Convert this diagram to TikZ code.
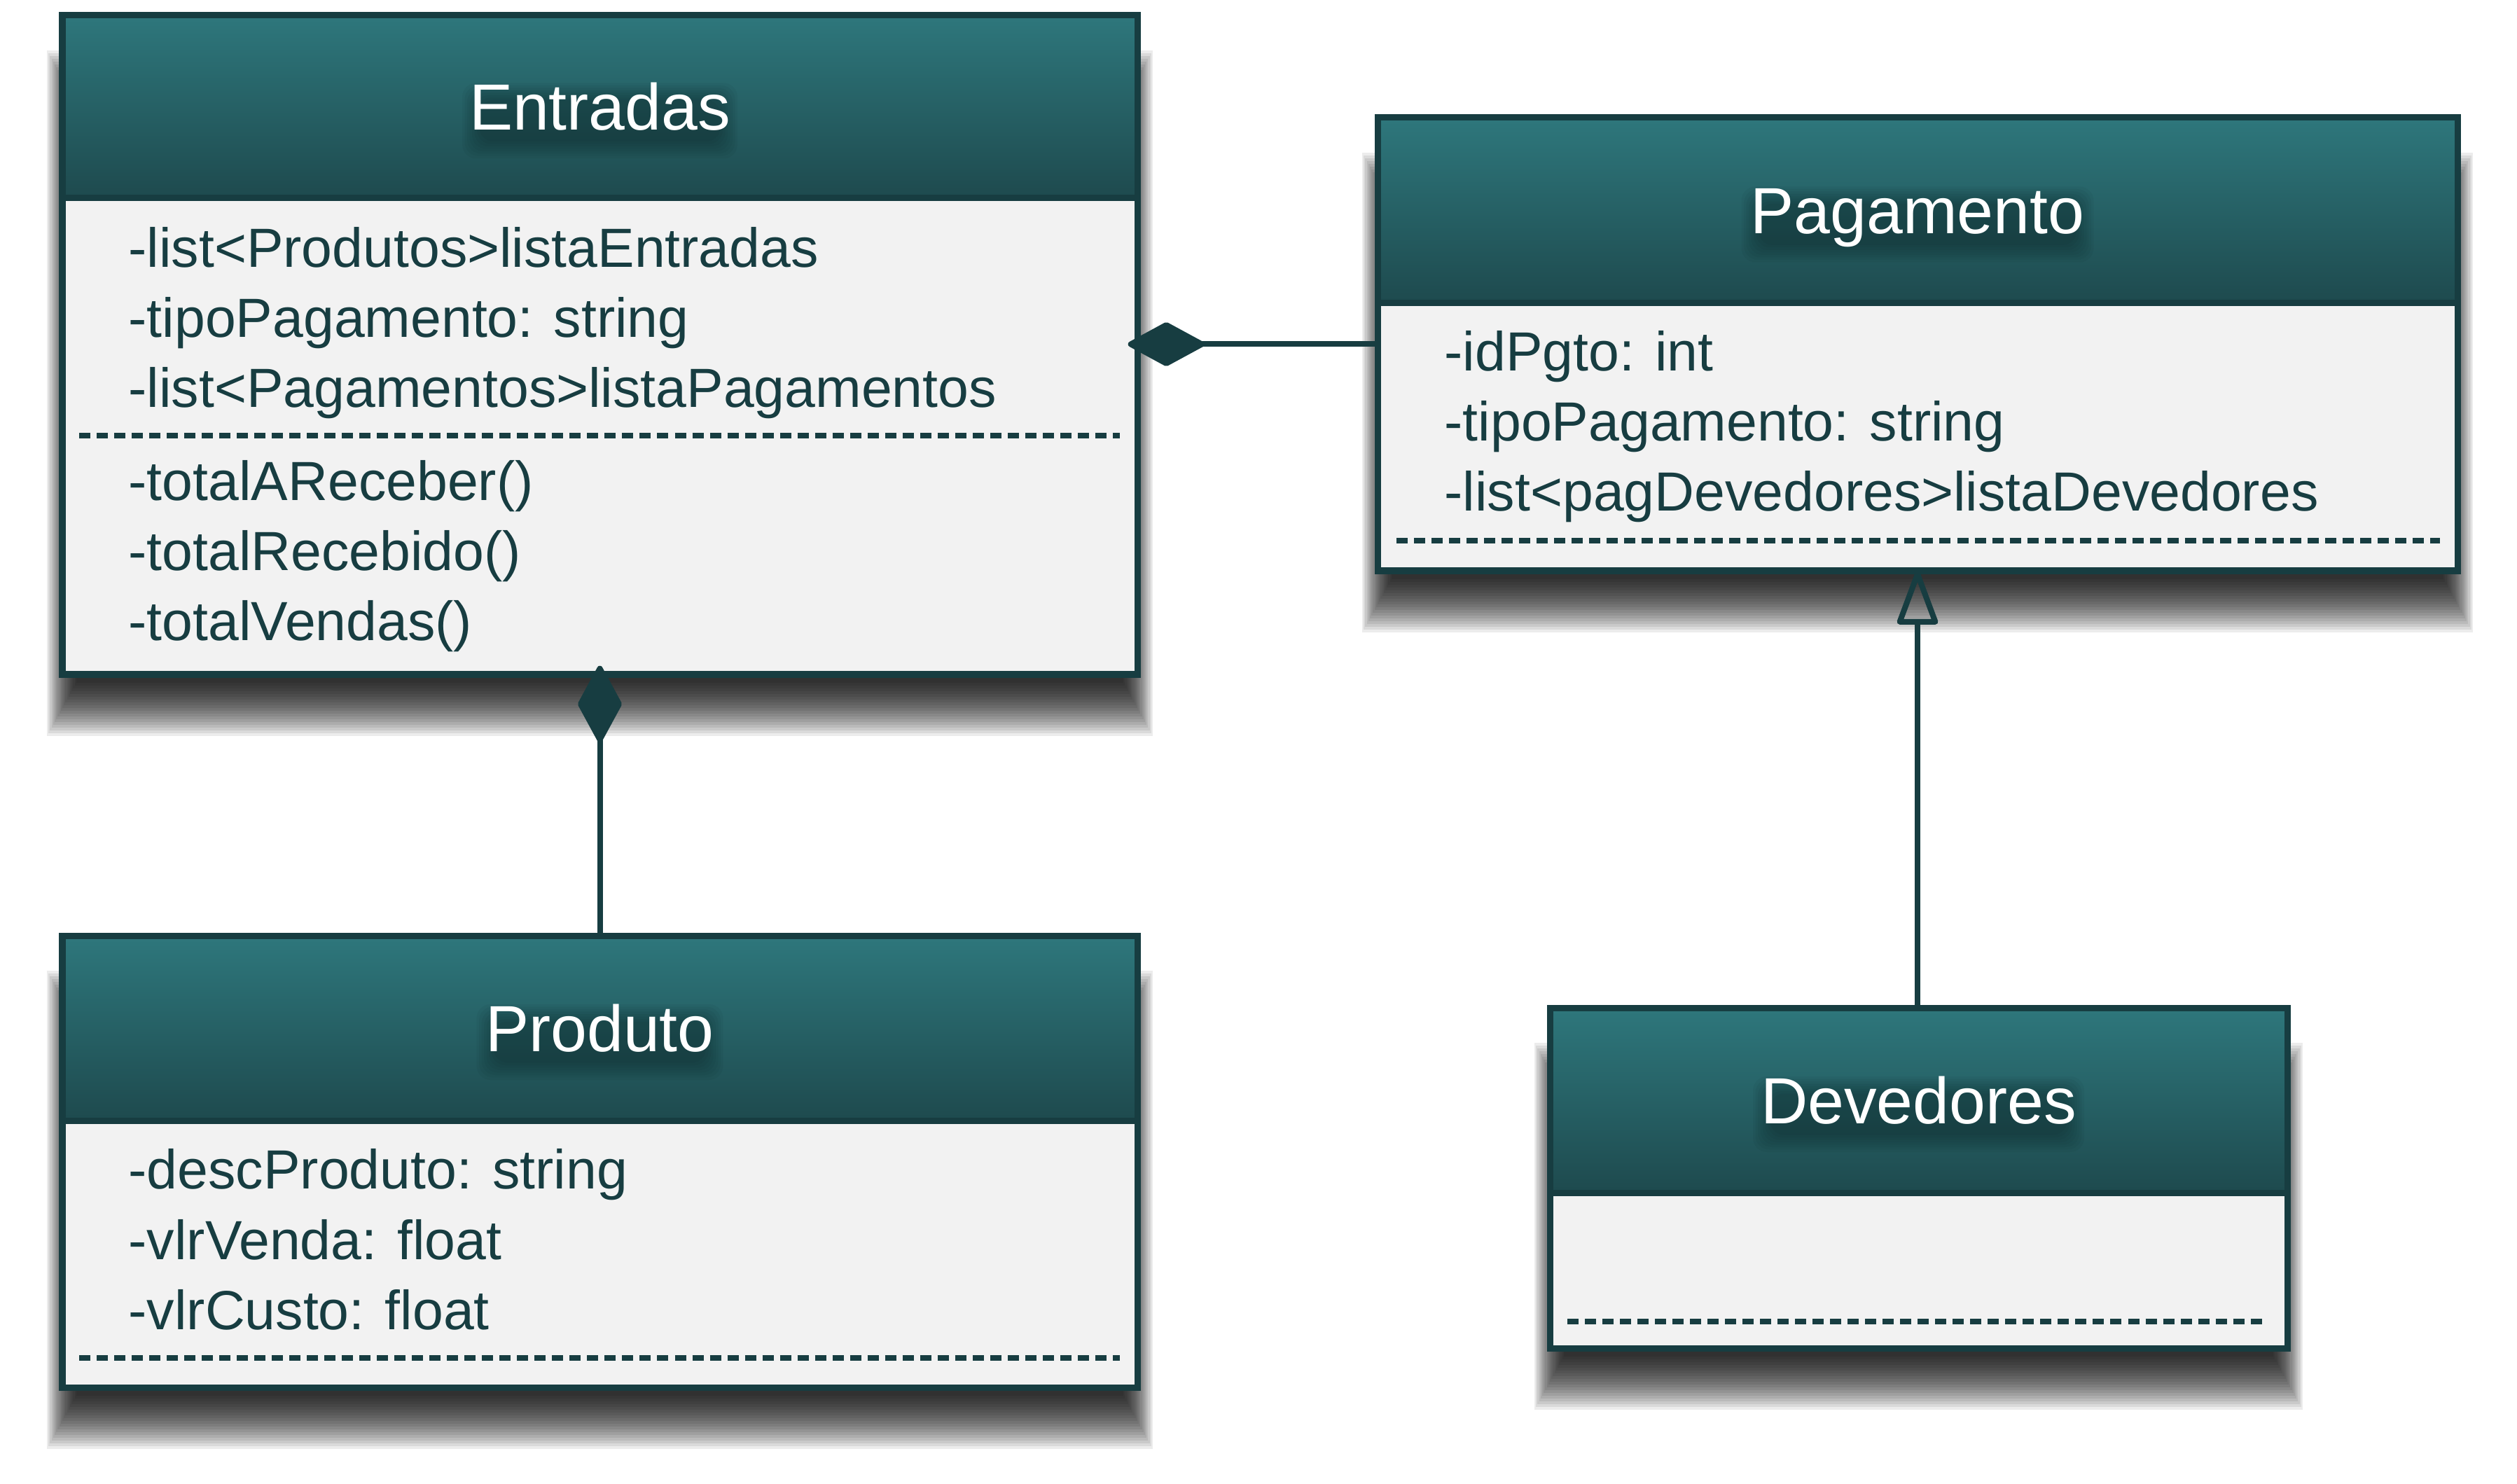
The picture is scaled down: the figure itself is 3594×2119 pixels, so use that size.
\documentclass[tikz,border=0pt]{standalone}
\usepackage{fontspec}
\setmainfont{Liberation Sans}
\usetikzlibrary{arrows.meta,fit}
\definecolor{frame}{RGB}{23,61,65}
\definecolor{hdtop}{RGB}{46,119,124}
\definecolor{hdbot}{RGB}{30,74,78}
\definecolor{bodyfill}{RGB}{242,242,242}
\definecolor{txt}{RGB}{23,61,65}
\tikzset{
  attr/.style={anchor=base west, inner sep=0, text=txt, font=\fontsize{22.4pt}{26pt}\selectfont},
  ttl/.style={anchor=base, inner sep=0, text=white, font=\fontsize{26.5pt}{30pt}\selectfont},
  frameline/.style={draw=frame, line width=0.09cm},
  sepline/.style={draw=frame, line width=0.085cm, dash pattern=on 0.16cm off 0.09cm},
  conn/.style={draw=frame, line width=0.08cm},
}
% name x1 y1 x2 y2 headerbottom title titlewidth
\newcommand{\umlbox}[8]{%
  \foreach \k in {0,...,19}{%
    \pgfmathsetmacro\ex{22-\k*2.2}
    \pgfmathsetmacro\ey{40-\k*4}
    \fill[black,fill opacity=0.075] ({#2-\ex},{#3+90-\ey}) rectangle ({#4+\ex},{#5+48+\ey});
  }
  \fill[bodyfill] (#2,#6) rectangle (#4,#5);
  \shade[top color=hdtop,bottom color=hdbot] (#2,#3) rectangle (#4,#6);
  \foreach \k in {0,...,7}{%
    \pgfmathsetmacro\eg{24-\k*3.5}
    \fill[black,fill opacity=0.035,rounded corners=0.2cm]
      ({(#2+#4)/2-#8/2+12-\eg},{(#3+#6)/2-10-\eg})
      rectangle ({(#2+#4)/2+#8/2-12+\eg},{(#3+#6)/2+50+\eg});
  }
  \draw[frameline] (#2,#3) rectangle (#4,#5);
  \draw[frameline] (#2,#6) -- (#4,#6);
  \node[fit={(#2,#3) (#4,#5)}, inner sep=0] (#1) {};
  \node[ttl] (#1-title) at ({(#2+#4)/2},{(#3+#6)/2+33}) {#7};
}
\begin{document}
\begin{tikzpicture}[x=0.01cm,y=-0.01cm]
\useasboundingbox (0,0) rectangle (3594,2119);
\fill[white] (0,0) rectangle (3594,2119);

\umlbox{entradas}{89}{22}{1624}{963}{283}{Entradas}{369}
\umlbox{pagamento}{1967}{168}{3509}{815}{433}{Pagamento}{479}
\umlbox{produto}{89}{1336}{1624}{1981}{1600}{Produto}{328}
\umlbox{devedores}{2213}{1439}{3266}{1925}{1703}{Devedores}{449}

% Entradas
\node[attr] (e1) at (183,382) {-list<Produtos>listaEntradas};
\node[attr] (e2) at (183,482) {-tipoPagamento: string};
\node[attr] (e3) at (183,582) {-list<Pagamentos>listaPagamentos};
\draw[sepline] (113,622) -- (1599,622);
\node[attr] (e4) at (183,715) {-totalAReceber()};
\node[attr] (e5) at (183,815) {-totalRecebido()};
\node[attr] (e6) at (183,915) {-totalVendas()};

% Pagamento
\node[attr] (p1) at (2062,530) {-idPgto: int};
\node[attr] (p2) at (2062,630) {-tipoPagamento: string};
\node[attr] (p3) at (2062,730) {-list<pagDevedores>listaDevedores};
\draw[sepline] (1994,772) -- (3484,772);

% Produto
\node[attr] (r1) at (183,1697) {-descProduto: string};
\node[attr] (r2) at (183,1798) {-vlrVenda: float};
\node[attr] (r3) at (183,1898) {-vlrCusto: float};
\draw[sepline] (113,1939) -- (1599,1939);

% Devedores
\draw[sepline] (2238,1887) -- (3238,1887);

% connectors
\draw[conn, -{Diamond[length=1.18cm,width=0.64cm,round]}, shorten >=-0.14cm]
  (pagamento.west) -- (pagamento.west -| entradas.east);
\draw[conn, -{Diamond[length=1.18cm,width=0.64cm,round]}, shorten >=-0.13cm]
  (produto.north) -- (entradas.south);
\draw[conn, -{Triangle[open,length=0.84cm,width=0.6cm,round]}]
  (pagamento.south |- devedores.north) -- (pagamento.south);
\end{tikzpicture}
\end{document}
